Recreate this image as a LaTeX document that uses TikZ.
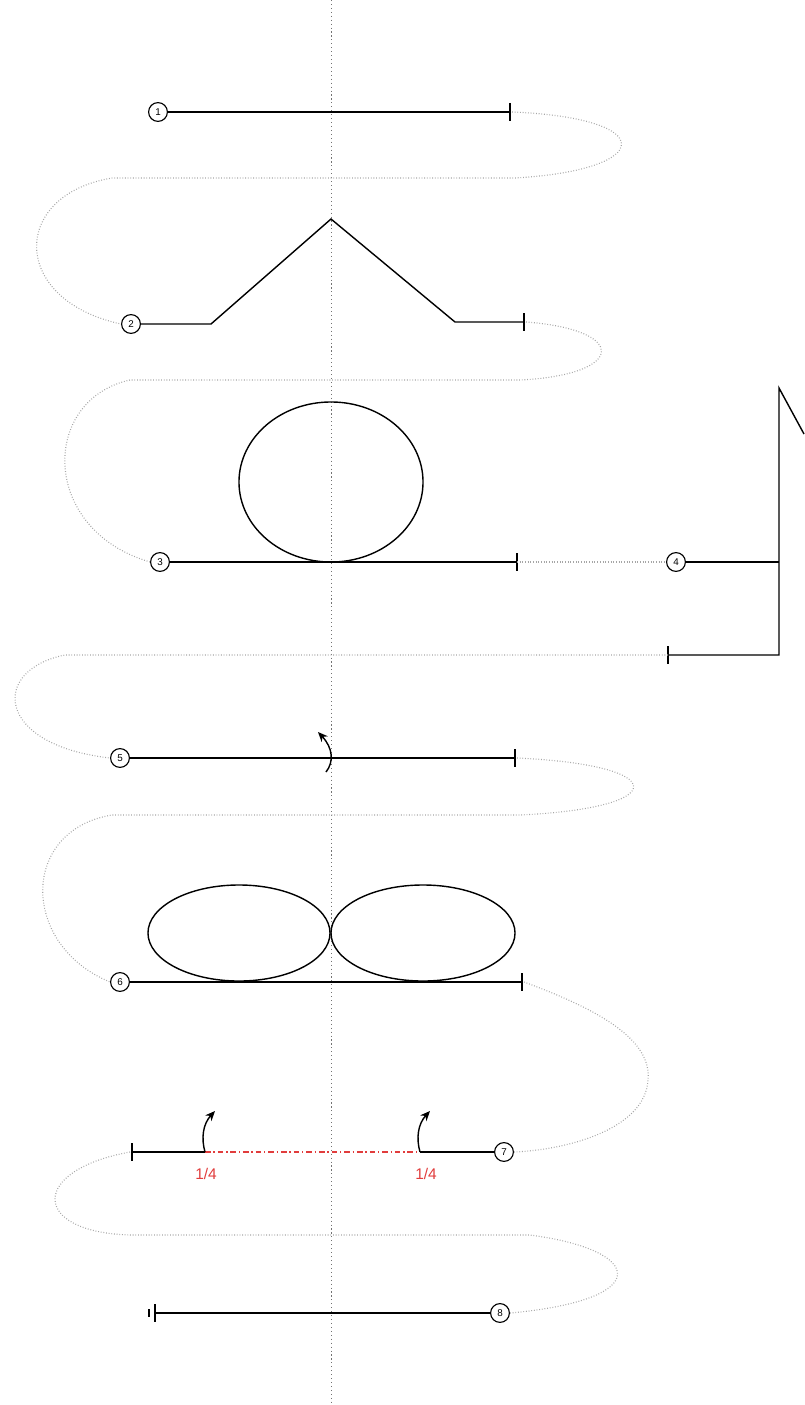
\documentclass[tikz,border=0pt]{standalone}
\usepackage{fontspec}
\setmainfont{Liberation Sans}
\usetikzlibrary{arrows.meta}
\definecolor{quarterred}{RGB}{225,60,60}
\begin{document}
\begin{tikzpicture}[x=0.025cm,y=-0.025cm,
  wire/.style={black,line width=1pt},
  guide/.style={gray!70,line width=0.8pt,dash pattern=on 0.6pt off 1.3pt},
  axisline/.style={gray!90!black,line width=0.6pt,dash pattern=on 0.8pt off 2pt},
  num/.style={circle,draw,line width=0.8pt,minimum size=0.47cm,inner sep=0pt,font=\fontsize{7}{7}\selectfont},
  turnarrow/.style={black,line width=1pt,-{Stealth[length=7pt,width=6pt]}},
  quarter/.style={quarterred,font=\fontsize{11}{11}\selectfont}]
\useasboundingbox (0,0) rectangle (804,1405);
% axis
\coordinate (axT) at (331,0);
\coordinate (axB) at (331,1405);
\draw[axisline] (axT) -- (axB);

% nodes
\node[num] (c1) at (158,112) {1};
\node[num] (c2) at (131,324) {2};
\node[num] (c3) at (160,562) {3};
\node[num] (c4) at (676,562) {4};
\node[num] (c5) at (120,758) {5};
\node[num] (c6) at (120,982) {6};
\node[num] (c7) at (504,1152) {7};
\node[num] (c8) at (500,1313) {8};

% tick coordinates
\coordinate (t1) at (510,112);
\coordinate (t2) at (524,322);
\coordinate (t3) at (517,562);
\coordinate (t4) at (668,655);
\coordinate (t5) at (515,758);
\coordinate (t6) at (522,982);
\coordinate (t7) at (132,1152);
\coordinate (t8) at (155,1313);

% row 1
\draw[wire] (c1) -- (t1);
\draw[wire] (t1) ++(0,-9) -- ++(0,18);
% row 2
\coordinate (p2a) at (211,324);
\coordinate (p2b) at (331,219);
\coordinate (p2c) at (455,322);
\draw[wire] (c2) -- (p2a) -- (p2b) -- (p2c) -- (t2);
\draw[wire] (t2) ++(0,-9) -- ++(0,18);
% row 3
\draw[wire] (c3) -- (t3);
\draw[wire] (t3) ++(0,-9) -- ++(0,18);
\draw[wire] (331,482) ellipse [x radius=2.3cm, y radius=2cm];
% row 4
\coordinate (p4a) at (779,562);
\coordinate (p4top) at (779,388);
\coordinate (p4bot) at (779,655);
\coordinate (p4out) at (804,434);
\draw[wire] (c4) -- (p4a);
\draw[wire] (p4out) -- (p4top) -- (p4bot) -- (t4);
\draw[wire] (t4) ++(0,-9) -- ++(0,18);
% row 5
\draw[wire] (c5) -- (t5);
\draw[wire] (t5) ++(0,-9) -- ++(0,18);
\draw[turnarrow] (326,772) .. controls (334,762) and (333,748) .. (318,732);
% row 6
\draw[wire] (c6) -- (t6);
\draw[wire] (t6) ++(0,-9) -- ++(0,18);
\draw[wire] (239,933) ellipse [x radius=2.275cm, y radius=1.2cm];
\draw[wire] (423,933) ellipse [x radius=2.3cm, y radius=1.2cm];
% row 7
\coordinate (q1) at (205,1152);
\coordinate (q2) at (420,1152);
\draw[wire] (c7) -- (q2);
\draw[wire] (q1) -- (t7);
\draw[wire] (t7) ++(0,-9) -- ++(0,18);
\draw[quarterred,line width=0.9pt,dash pattern=on 4pt off 2pt on 1pt off 2pt] (q1) -- (q2);
\draw[turnarrow] (q1) .. controls (201,1138) and (203,1124) .. (215,1111);
\draw[turnarrow] (q2) .. controls (416,1138) and (418,1124) .. (430,1111);
\node[quarter] (l1) at (206,1174) {1/4};
\node[quarter] (l2) at (426,1174) {1/4};
% row 8
\draw[wire] (c8) -- (t8);
\draw[wire] (t8) ++(0,-9) -- ++(0,18);
\draw[wire] (149,1309) -- (149,1317);

% guides
\draw[guide] (t1) ++(2,0) .. controls (660,118) and (655,170) .. (515,178) -- (112,178)
  .. controls (10,195) and (10,300) .. (c2.west);
\draw[guide] (t2) ++(2,0) .. controls (630,330) and (625,375) .. (520,380) -- (130,380)
  .. controls (40,400) and (40,530) .. (c3.west);
\draw[guide] (t3) -- (c4);
\draw[guide] (t4) -- (65,655) .. controls (-10,670) and (-5,745) .. (c5.west);
\draw[guide] (t5) ++(2,0) .. controls (672,765) and (672,808) .. (520,815) -- (112,815)
  .. controls (20,830) and (20,945) .. (c6.west);
\draw[guide] (t6) ++(2,0) .. controls (600,1010) and (652,1040) .. (648,1080)
  .. controls (645,1130) and (565,1150) .. (c7.east);
\draw[guide] (t7) ++(-2,0) .. controls (30,1170) and (30,1232) .. (130,1235) -- (530,1235)
  .. controls (645,1250) and (655,1300) .. (c8.east);
\end{tikzpicture}
\end{document}
